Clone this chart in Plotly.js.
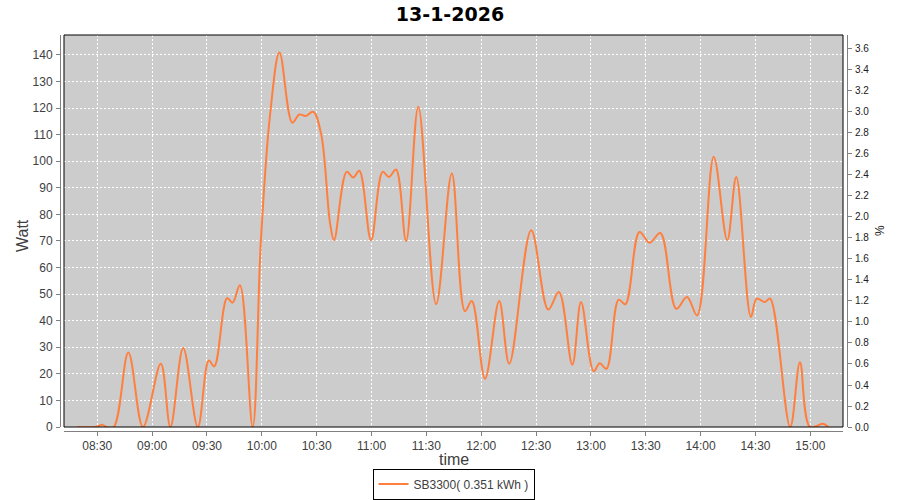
<!DOCTYPE html>
<html>
<head>
<meta charset="utf-8">
<script src="https://cdn.plot.ly/plotly-3.0.1.min.js"></script>
<style>
  html, body { margin: 0; padding: 0; background: #ffffff; }
  #chart { width: 900px; height: 500px; }
</style>
</head>
<body>
<div id="chart"></div>
<script>
// Sample times (13-1-2026) and power values in Watt
var times = [
  "08:19:00","08:29:00","08:33:00","08:35:00","08:39:00","08:47:00","08:55:00",
  "09:04:45","09:10:00","09:17:00","09:25:00","09:31:00","09:34:00","09:41:00",
  "09:44:00","09:48:00","09:55:00","09:59:30","10:04:30","10:09:40","10:16:40",
  "10:20:30","10:24:00","10:28:10","10:32:30","10:37:20","10:39:30","10:46:25",
  "10:50:00","10:53:20","10:59:45","11:06:05","11:09:35","11:13:25","11:18:55",
  "11:25:35","11:35:20","11:43:55","11:51:05","11:54:50","12:02:05","12:09:50",
  "12:15:20","12:27:20","12:36:40","12:42:30","12:49:50","12:54:35","13:01:30",
  "13:04:50","13:08:30","13:15:10","13:18:50","13:26:35","13:32:05","13:38:00",
  "13:46:40","13:52:35","13:58:05","14:07:10","14:14:35","14:19:30","14:27:30",
  "14:30:40","14:35:10","14:38:00","14:49:00","14:54:20","14:59:50","15:06:50",
  "15:09:55"
];
var watt = [
  0, 0, 0.8, 0, 0, 28.0, 0,
  23.8, 0, 29.7, 0, 25.0, 22.8, 48.5,
  46.8, 53.3, 0, 70.3, 117.4, 140.9, 114.5,
  117.6, 117.0, 118.6, 110.0, 76.6, 70.3, 96.0,
  93.9, 96.4, 70.3, 96.0, 94.1, 96.9, 70.0,
  120.5, 46.2, 95.4, 43.6, 47.4, 18.2, 47.4,
  23.8, 74.0, 44.2, 50.8, 23.4, 47.0, 21.0,
  24.0, 21.9, 47.9, 46.2, 73.4, 69.3, 73.0,
  44.5, 48.9, 42.0, 101.7, 70.3, 94.1, 41.4,
  48.3, 47.0, 48.3, 0, 24.4, 0, 1.2,
  0
];
var dateStr = "2026-01-13";
var chartTitle = "13-1-2026";
var seriesName = "SB3300( 0.351 kWh )";
var xLabel = "time";
var yLabel = "Watt";
var y2Label = "%";

var xs = times.map(function (t) { return dateStr + " " + t; });

var trace = {
  type: "scatter",
  mode: "lines",
  x: xs,
  y: watt,
  name: seriesName,
  line: { color: "#ff7f3f", width: 2, shape: "spline", smoothing: 1 },
  hoverinfo: "x+y"
};
// invisible trace to carry the right-hand (%) axis
var trace2 = {
  type: "scatter",
  mode: "lines",
  x: [xs[0]],
  y: [0],
  yaxis: "y2",
  showlegend: false,
  hoverinfo: "skip",
  line: { color: "rgba(0,0,0,0)" }
};

var tickFont = { family: "Liberation Sans, Arial, sans-serif", size: 12, color: "#404040" };
var labelFont = { family: "Liberation Sans, Arial, sans-serif", size: 16, color: "#404040" };
var gridDash = "2px,2px";

var W = 787, H = 396;
var layout = {
  width: 900,
  height: 500,
  margin: { l: 60, r: 53, t: 35, b: 69, autoexpand: false },
  paper_bgcolor: "#ffffff",
  plot_bgcolor: "#cccccc",
  showlegend: true,
  title: {
    text: chartTitle,
    font: { family: "DejaVu Sans, Verdana, sans-serif", size: 19, color: "#000000", weight: "bold" },
    x: 0.5, xanchor: "center",
    y: 1 - 14 / 500, yanchor: "middle", yref: "container"
  },
  xaxis: {
    type: "date",
    domain: [4 / W, 1 - 4 / W],
    anchor: "free",
    position: 0,
    automargin: false,
    range: [dateStr + " 08:11:48", dateStr + " 15:17:53"],
    tick0: dateStr + " 08:30:00",
    dtick: 1800000,
    tickformat: "%H:%M",
    ticks: "outside",
    ticklen: 4,
    tickcolor: "#808080",
    tickfont: tickFont,
    showline: true,
    linecolor: "#808080",
    linewidth: 1,
    showgrid: true,
    gridcolor: "#ffffff",
    gridwidth: 1,
    griddash: gridDash,
    zeroline: false
  },
  yaxis: {
    domain: [4 / H, 1],
    anchor: "free",
    position: 0,
    automargin: false,
    range: [0, 147.5],
    dtick: 10,
    tick0: 0,
    ticks: "outside",
    ticklen: 4,
    tickcolor: "#808080",
    tickfont: tickFont,
    ticklabelstandoff: 1,
    showline: true,
    linecolor: "#808080",
    linewidth: 1,
    showgrid: true,
    gridcolor: "#ffffff",
    gridwidth: 1,
    griddash: gridDash,
    zeroline: false
  },
  yaxis2: {
    overlaying: "y",
    side: "right",
    anchor: "free",
    position: 1,
    automargin: false,
    range: [0, 3.733],
    dtick: 0.2,
    tick0: 0,
    tickformat: ".1f",
    ticks: "outside",
    ticklen: 4,
    tickcolor: "#808080",
    tickfont: { family: "Liberation Sans, Arial, sans-serif", size: 10, color: "#202020" },
    ticklabelstandoff: 1,
    showline: true,
    linecolor: "#808080",
    linewidth: 1,
    showgrid: false,
    zeroline: false
  },
  annotations: [
    { text: xLabel, xref: "paper", yref: "paper", x: 0.5, y: (431 - 459) / H,
      xanchor: "center", yanchor: "middle", showarrow: false, font: labelFont },
    { text: yLabel, xref: "paper", yref: "paper", x: (22 - 60) / W, y: (431 - 236) / H,
      xanchor: "center", yanchor: "middle", showarrow: false, textangle: -90, font: labelFont },
    { text: y2Label, xref: "paper", yref: "paper", x: (880 - 60) / W, y: (431 - 231) / H,
      xanchor: "center", yanchor: "middle", showarrow: false, textangle: -90,
      font: { family: "Liberation Sans, Arial, sans-serif", size: 12, color: "#202020" } }
  ],
  legend: {
    orientation: "h",
    x: 0.5, xanchor: "center",
    y: (431 - 499.5) / H, yanchor: "bottom",
    bgcolor: "#ffffff",
    bordercolor: "#000000",
    borderwidth: 1,
    font: { family: "Liberation Sans, Arial, sans-serif", size: 12, color: "#404040" },
    itemwidth: 30
  },
  shapes: [{
    type: "rect",
    xref: "x domain", yref: "y domain",
    x0: 0, x1: 1, y0: 0, y1: 1,
    line: { color: "#000000", width: 1 },
    fillcolor: "rgba(0,0,0,0)",
    layer: "above"
  }]
};

Plotly.newPlot("chart", [trace, trace2], layout, { staticPlot: true, displayModeBar: false });
</script>
</body>
</html>
